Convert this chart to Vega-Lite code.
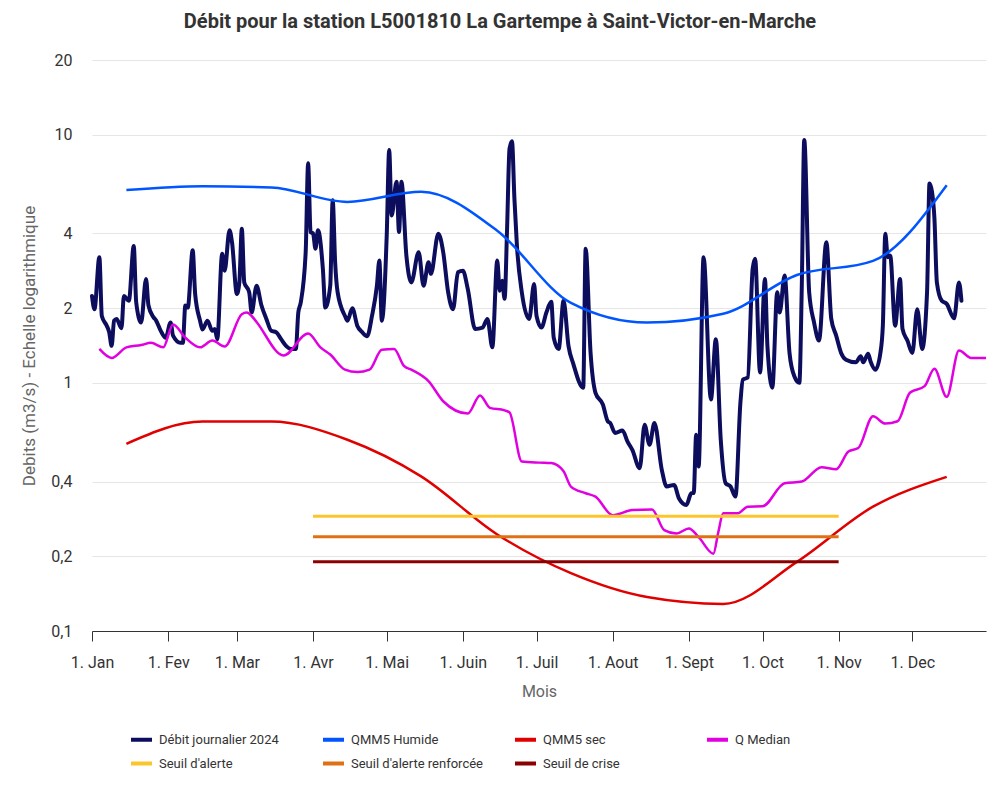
{
  "$schema": "https://vega.github.io/schema/vega-lite/v6.json",
  "autosize": {"type": "none"},
  "width": 894,
  "height": 571,
  "padding": {"left": 92, "top": 60, "right": 14, "bottom": 169},
  "background": "white",
  "config": {"view": {"stroke": null}, "font": "Roboto"},
  "title": {
    "text": "Débit pour la station L5001810 La Gartempe à Saint-Victor-en-Marche",
    "font": "Roboto", "fontSize": 20, "fontWeight": "bold", "color": "#333333",
    "anchor": "middle", "offset": 20, "dx": -39
  },
  "datasets": {
    "debit": [
      {"date": "2023-01-01", "q": 2.24}, {"date": "2023-01-02", "q": 1.98}, {"date": "2023-01-04", "q": 3.21}, {"date": "2023-01-05", "q": 1.86},
      {"date": "2023-01-07", "q": 1.70}, {"date": "2023-01-08", "q": 1.60}, {"date": "2023-01-09", "q": 1.41}, {"date": "2023-01-10", "q": 1.78},
      {"date": "2023-01-11", "q": 1.81}, {"date": "2023-01-13", "q": 1.66}, {"date": "2023-01-14", "q": 2.24}, {"date": "2023-01-16", "q": 2.14},
      {"date": "2023-01-18", "q": 3.56}, {"date": "2023-01-19", "q": 2.11}, {"date": "2023-01-21", "q": 1.75}, {"date": "2023-01-23", "q": 2.62},
      {"date": "2023-01-24", "q": 2.05}, {"date": "2023-01-26", "q": 1.84}, {"date": "2023-01-27", "q": 1.79}, {"date": "2023-01-29", "q": 1.62},
      {"date": "2023-01-31", "q": 1.52}, {"date": "2023-02-02", "q": 1.75}, {"date": "2023-02-03", "q": 1.55}, {"date": "2023-02-06", "q": 1.45},
      {"date": "2023-02-07", "q": 1.45}, {"date": "2023-02-08", "q": 2.05}, {"date": "2023-02-09", "q": 2.01}, {"date": "2023-02-11", "q": 3.42},
      {"date": "2023-02-12", "q": 2.28}, {"date": "2023-02-14", "q": 1.78}, {"date": "2023-02-15", "q": 1.64}, {"date": "2023-02-17", "q": 1.78},
      {"date": "2023-02-19", "q": 1.62}, {"date": "2023-02-20", "q": 1.65}, {"date": "2023-02-21", "q": 1.50}, {"date": "2023-02-23", "q": 3.31},
      {"date": "2023-02-24", "q": 2.83}, {"date": "2023-02-26", "q": 4.12}, {"date": "2023-02-27", "q": 3.69}, {"date": "2023-03-01", "q": 2.28},
      {"date": "2023-03-02", "q": 2.54}, {"date": "2023-03-03", "q": 4.18}, {"date": "2023-03-04", "q": 2.54}, {"date": "2023-03-06", "q": 2.32},
      {"date": "2023-03-07", "q": 1.92}, {"date": "2023-03-09", "q": 2.46}, {"date": "2023-03-11", "q": 2.05}, {"date": "2023-03-13", "q": 1.81},
      {"date": "2023-03-15", "q": 1.62}, {"date": "2023-03-17", "q": 1.60}, {"date": "2023-03-19", "q": 1.50}, {"date": "2023-03-21", "q": 1.41},
      {"date": "2023-03-23", "q": 1.37}, {"date": "2023-03-25", "q": 1.37}, {"date": "2023-03-26", "q": 1.92}, {"date": "2023-03-27", "q": 2.11},
      {"date": "2023-03-29", "q": 3.36}, {"date": "2023-03-30", "q": 7.67}, {"date": "2023-03-31", "q": 4.05}, {"date": "2023-04-01", "q": 4.00},
      {"date": "2023-04-02", "q": 3.47}, {"date": "2023-04-03", "q": 4.12}, {"date": "2023-04-05", "q": 2.88}, {"date": "2023-04-06", "q": 2.01},
      {"date": "2023-04-08", "q": 2.46}, {"date": "2023-04-09", "q": 5.44}, {"date": "2023-04-10", "q": 3.06}, {"date": "2023-04-11", "q": 2.32},
      {"date": "2023-04-14", "q": 1.86}, {"date": "2023-04-15", "q": 1.78}, {"date": "2023-04-17", "q": 2.00}, {"date": "2023-04-19", "q": 1.70},
      {"date": "2023-04-21", "q": 1.60}, {"date": "2023-04-23", "q": 1.54}, {"date": "2023-04-25", "q": 1.86}, {"date": "2023-04-27", "q": 2.46},
      {"date": "2023-04-28", "q": 3.11}, {"date": "2023-04-29", "q": 1.78}, {"date": "2023-05-01", "q": 3.93}, {"date": "2023-05-02", "q": 8.68},
      {"date": "2023-05-03", "q": 4.73}, {"date": "2023-05-05", "q": 6.46}, {"date": "2023-05-06", "q": 4.05}, {"date": "2023-05-07", "q": 6.46},
      {"date": "2023-05-09", "q": 3.26}, {"date": "2023-05-11", "q": 2.54}, {"date": "2023-05-14", "q": 3.36}, {"date": "2023-05-16", "q": 2.46},
      {"date": "2023-05-18", "q": 3.06}, {"date": "2023-05-19", "q": 2.75}, {"date": "2023-05-22", "q": 3.99}, {"date": "2023-05-24", "q": 3.36},
      {"date": "2023-05-26", "q": 2.32}, {"date": "2023-05-28", "q": 1.98}, {"date": "2023-05-30", "q": 2.79}, {"date": "2023-06-01", "q": 2.83},
      {"date": "2023-06-03", "q": 2.39}, {"date": "2023-06-06", "q": 1.65}, {"date": "2023-06-09", "q": 1.67}, {"date": "2023-06-11", "q": 1.81},
      {"date": "2023-06-13", "q": 1.39}, {"date": "2023-06-15", "q": 3.11}, {"date": "2023-06-16", "q": 2.35}, {"date": "2023-06-17", "q": 2.58},
      {"date": "2023-06-18", "q": 2.18}, {"date": "2023-06-19", "q": 4.17}, {"date": "2023-06-20", "q": 8.8}, {"date": "2023-06-21", "q": 9.4},
      {"date": "2023-06-22", "q": 5.5}, {"date": "2023-06-23", "q": 3.58}, {"date": "2023-06-25", "q": 2.32}, {"date": "2023-06-28", "q": 1.81},
      {"date": "2023-06-30", "q": 2.50}, {"date": "2023-07-01", "q": 1.86}, {"date": "2023-07-03", "q": 1.67}, {"date": "2023-07-05", "q": 1.92},
      {"date": "2023-07-07", "q": 2.12}, {"date": "2023-07-08", "q": 1.52}, {"date": "2023-07-10", "q": 1.37}, {"date": "2023-07-12", "q": 2.14},
      {"date": "2023-07-14", "q": 1.41}, {"date": "2023-07-16", "q": 1.19}, {"date": "2023-07-20", "q": 0.955}, {"date": "2023-07-21", "q": 3.47},
      {"date": "2023-07-23", "q": 1.32}, {"date": "2023-07-25", "q": 0.912}, {"date": "2023-07-28", "q": 0.818}, {"date": "2023-07-30", "q": 0.70},
      {"date": "2023-07-31", "q": 0.689}, {"date": "2023-08-02", "q": 0.628}, {"date": "2023-08-05", "q": 0.643}, {"date": "2023-08-07", "q": 0.581},
      {"date": "2023-08-09", "q": 0.537}, {"date": "2023-08-12", "q": 0.453}, {"date": "2023-08-14", "q": 0.678}, {"date": "2023-08-16", "q": 0.563},
      {"date": "2023-08-18", "q": 0.689}, {"date": "2023-08-21", "q": 0.446}, {"date": "2023-08-23", "q": 0.382}, {"date": "2023-08-26", "q": 0.388},
      {"date": "2023-08-28", "q": 0.342}, {"date": "2023-08-31", "q": 0.322}, {"date": "2023-09-02", "q": 0.359}, {"date": "2023-09-03", "q": 0.36},
      {"date": "2023-09-04", "q": 0.618}, {"date": "2023-09-05", "q": 0.46}, {"date": "2023-09-07", "q": 3.21}, {"date": "2023-09-10", "q": 0.857},
      {"date": "2023-09-12", "q": 1.50}, {"date": "2023-09-14", "q": 0.59}, {"date": "2023-09-16", "q": 0.394}, {"date": "2023-09-18", "q": 0.382},
      {"date": "2023-09-20", "q": 0.348}, {"date": "2023-09-22", "q": 0.831}, {"date": "2023-09-23", "q": 1.03}, {"date": "2023-09-25", "q": 1.05},
      {"date": "2023-09-27", "q": 2.88}, {"date": "2023-09-28", "q": 3.16}, {"date": "2023-09-30", "q": 1.10}, {"date": "2023-10-02", "q": 2.62},
      {"date": "2023-10-03", "q": 1.41}, {"date": "2023-10-05", "q": 0.955}, {"date": "2023-10-07", "q": 2.32}, {"date": "2023-10-08", "q": 1.92},
      {"date": "2023-10-10", "q": 2.71}, {"date": "2023-10-12", "q": 1.32}, {"date": "2023-10-14", "q": 1.06}, {"date": "2023-10-16", "q": 1.00},
      {"date": "2023-10-17", "q": 2.46}, {"date": "2023-10-18", "q": 9.53}, {"date": "2023-10-20", "q": 2.32}, {"date": "2023-10-22", "q": 1.75},
      {"date": "2023-10-24", "q": 1.48}, {"date": "2023-10-27", "q": 3.69}, {"date": "2023-10-29", "q": 1.81}, {"date": "2023-10-31", "q": 1.55},
      {"date": "2023-11-02", "q": 1.32}, {"date": "2023-11-04", "q": 1.24}, {"date": "2023-11-08", "q": 1.21}, {"date": "2023-11-10", "q": 1.28},
      {"date": "2023-11-11", "q": 1.21}, {"date": "2023-11-13", "q": 1.31}, {"date": "2023-11-14", "q": 1.22}, {"date": "2023-11-16", "q": 1.13},
      {"date": "2023-11-18", "q": 1.32}, {"date": "2023-11-19", "q": 1.70}, {"date": "2023-11-20", "q": 3.99}, {"date": "2023-11-21", "q": 3.21},
      {"date": "2023-11-22", "q": 3.26}, {"date": "2023-11-24", "q": 1.70}, {"date": "2023-11-26", "q": 2.62}, {"date": "2023-11-27", "q": 1.65},
      {"date": "2023-11-29", "q": 1.48}, {"date": "2023-12-01", "q": 1.32}, {"date": "2023-12-03", "q": 1.98}, {"date": "2023-12-05", "q": 1.37},
      {"date": "2023-12-07", "q": 2.32}, {"date": "2023-12-08", "q": 6.36}, {"date": "2023-12-09", "q": 5.9}, {"date": "2023-12-10", "q": 4.6},
      {"date": "2023-12-11", "q": 2.54}, {"date": "2023-12-13", "q": 2.14}, {"date": "2023-12-15", "q": 2.08}, {"date": "2023-12-18", "q": 1.82},
      {"date": "2023-12-20", "q": 2.54}, {"date": "2023-12-21", "q": 2.14}
    ],
    "humide": [
      {"date": "2023-01-15", "q": 5.98}, {"date": "2023-02-15", "q": 6.20}, {"date": "2023-03-15", "q": 6.13}, {"date": "2023-04-15", "q": 5.36},
      {"date": "2023-05-15", "q": 5.89}, {"date": "2023-06-15", "q": 4.10}, {"date": "2023-07-15", "q": 2.10}, {"date": "2023-08-15", "q": 1.75},
      {"date": "2023-09-15", "q": 1.90}, {"date": "2023-10-15", "q": 2.72}, {"date": "2023-11-15", "q": 3.10}, {"date": "2023-12-15", "q": 6.26}
    ],
    "sec": [
      {"date": "2023-01-15", "q": 0.568}, {"date": "2023-02-15", "q": 0.698}, {"date": "2023-03-15", "q": 0.698}, {"date": "2023-04-15", "q": 0.59},
      {"date": "2023-05-15", "q": 0.42}, {"date": "2023-06-15", "q": 0.245}, {"date": "2023-07-15", "q": 0.171}, {"date": "2023-08-15", "q": 0.137},
      {"date": "2023-09-15", "q": 0.1286}, {"date": "2023-10-15", "q": 0.19}, {"date": "2023-11-15", "q": 0.317}, {"date": "2023-12-15", "q": 0.418}
    ],
    "median": [
      {"date": "2023-01-04", "q": 1.37}, {"date": "2023-01-09", "q": 1.26}, {"date": "2023-01-15", "q": 1.39}, {"date": "2023-01-21", "q": 1.42},
      {"date": "2023-01-25", "q": 1.45}, {"date": "2023-01-30", "q": 1.39}, {"date": "2023-02-03", "q": 1.72}, {"date": "2023-02-08", "q": 1.52},
      {"date": "2023-02-14", "q": 1.39}, {"date": "2023-02-19", "q": 1.48}, {"date": "2023-02-24", "q": 1.40}, {"date": "2023-03-03", "q": 1.89},
      {"date": "2023-03-05", "q": 1.92}, {"date": "2023-03-07", "q": 1.86}, {"date": "2023-03-09", "q": 1.76}, {"date": "2023-03-20", "q": 1.29},
      {"date": "2023-03-30", "q": 1.58}, {"date": "2023-04-04", "q": 1.39}, {"date": "2023-04-08", "q": 1.30}, {"date": "2023-04-14", "q": 1.13},
      {"date": "2023-04-19", "q": 1.105}, {"date": "2023-04-24", "q": 1.13}, {"date": "2023-04-29", "q": 1.36}, {"date": "2023-05-04", "q": 1.37},
      {"date": "2023-05-08", "q": 1.17}, {"date": "2023-05-11", "q": 1.13}, {"date": "2023-05-18", "q": 1.016}, {"date": "2023-05-24", "q": 0.843},
      {"date": "2023-06-03", "q": 0.752}, {"date": "2023-06-08", "q": 0.889}, {"date": "2023-06-12", "q": 0.793}, {"date": "2023-06-18", "q": 0.775},
      {"date": "2023-06-20", "q": 0.76}, {"date": "2023-06-25", "q": 0.482}, {"date": "2023-07-02", "q": 0.477}, {"date": "2023-07-07", "q": 0.475},
      {"date": "2023-07-12", "q": 0.44}, {"date": "2023-07-15", "q": 0.382}, {"date": "2023-07-21", "q": 0.359}, {"date": "2023-07-25", "q": 0.348},
      {"date": "2023-08-01", "q": 0.293}, {"date": "2023-08-09", "q": 0.307}, {"date": "2023-08-17", "q": 0.309}, {"date": "2023-08-22", "q": 0.255},
      {"date": "2023-08-27", "q": 0.247}, {"date": "2023-09-01", "q": 0.259}, {"date": "2023-09-05", "q": 0.239}, {"date": "2023-09-11", "q": 0.205},
      {"date": "2023-09-13", "q": 0.25}, {"date": "2023-09-15", "q": 0.298}, {"date": "2023-09-21", "q": 0.298}, {"date": "2023-09-25", "q": 0.317},
      {"date": "2023-10-01", "q": 0.318}, {"date": "2023-10-10", "q": 0.394}, {"date": "2023-10-17", "q": 0.40}, {"date": "2023-10-25", "q": 0.457},
      {"date": "2023-10-31", "q": 0.449}, {"date": "2023-11-05", "q": 0.529}, {"date": "2023-11-09", "q": 0.546}, {"date": "2023-11-15", "q": 0.733},
      {"date": "2023-11-20", "q": 0.685}, {"date": "2023-11-25", "q": 0.70}, {"date": "2023-11-30", "q": 0.912}, {"date": "2023-12-06", "q": 0.97},
      {"date": "2023-12-10", "q": 1.14}, {"date": "2023-12-15", "q": 0.878}, {"date": "2023-12-20", "q": 1.35}, {"date": "2023-12-25", "q": 1.26},
      {"date": "2023-12-31", "q": 1.26}
    ],
    "alerte": [{"date": "2023-04-01", "q": 0.29}, {"date": "2023-11-01", "q": 0.29}],
    "renforcee": [{"date": "2023-04-01", "q": 0.24}, {"date": "2023-11-01", "q": 0.24}],
    "crise": [{"date": "2023-04-01", "q": 0.19}, {"date": "2023-11-01", "q": 0.19}]
  },
  "encoding": {
    "x": {
      "field": "date", "type": "temporal",
      "scale": {"type": "utc", "domain": [{"year": 2023, "month": 1, "date": 1, "utc": true}, {"year": 2023, "month": 12, "date": 31, "utc": true}], "nice": false},
      "axis": {
        "title": "Mois", "titleFont": "Roboto", "titleFontSize": 16, "titleFontWeight": "normal", "titleColor": "#666666", "titlePadding": 13,
        "labelFont": "Roboto", "labelFontSize": 16, "labelColor": "#333333", "labelPadding": 13,
        "tickSize": 10, "tickColor": "#333333", "domainColor": "#333333", "grid": false,
        "tickCount": {"interval": "month", "step": 1},
        "labelFlush": false, "labelOverlap": false,
        "labelExpr": "'1. ' + ['Jan','Fev','Mar','Avr','Mai','Juin','Juil','Aout','Sept','Oct','Nov','Dec'][utcmonth(datum.value)]"
      }
    },
    "y": {
      "field": "q", "type": "quantitative",
      "scale": {"type": "log", "domain": [0.1, 20], "nice": false},
      "axis": {
        "title": "Debits (m3/s) - Echelle logarithmique", "titleFont": "Roboto", "titleFontSize": 17, "titleFontWeight": "normal", "titleColor": "#666666", "titlePadding": 12,
        "values": [0.1, 0.2, 0.4, 1, 2, 4, 10, 20],
        "labelExpr": "replace(toString(datum.value), '.', ',')",
        "labelFont": "Roboto", "labelFontSize": 16, "labelColor": "#333333", "labelPadding": 20,
        "ticks": false, "domain": false, "grid": true, "gridColor": "#e6e6e6"
      }
    }
  },
  "layer": [
    {
      "data": {"name": "debit"},
      "mark": {"type": "line", "interpolate": "monotone", "strokeWidth": 4, "strokeJoin": "round", "strokeCap": "round"},
      "encoding": {
        "color": {
          "datum": "Débit journalier 2024", "type": "nominal",
          "scale": {"domain": ["Débit journalier 2024", "QMM5 Humide", "QMM5 sec", "Q Median", "Seuil d'alerte", "Seuil d'alerte renforcée", "Seuil de crise"],
                    "range": ["#0d0d5e", "#0055ff", "#e00000", "#e000e0", "#fcc52c", "#e07014", "#8b0000"]},
          "legend": {
            "orient": "none", "legendX": 37, "legendY": 667, "direction": "horizontal", "columns": 4, "title": null,
            "symbolType": "stroke", "symbolStrokeWidth": 4, "symbolSize": 440,
            "labelFont": "Roboto", "labelFontSize": 13, "labelColor": "#333333", "labelOffset": 5,
            "columnPadding": 24, "rowPadding": 3, "gridAlign": "all", "padding": 0
          }
        }
      }
    },
    {
      "data": {"name": "humide"},
      "mark": {"type": "line", "interpolate": "monotone", "strokeWidth": 2.5},
      "encoding": {"color": {"datum": "QMM5 Humide", "type": "nominal"}}
    },
    {
      "data": {"name": "sec"},
      "mark": {"type": "line", "interpolate": "monotone", "strokeWidth": 2.5},
      "encoding": {"color": {"datum": "QMM5 sec", "type": "nominal"}}
    },
    {
      "data": {"name": "median"},
      "mark": {"type": "line", "interpolate": "monotone", "strokeWidth": 2.5},
      "encoding": {"color": {"datum": "Q Median", "type": "nominal"}}
    },
    {
      "data": {"name": "alerte"},
      "mark": {"type": "line", "strokeWidth": 3},
      "encoding": {"color": {"datum": "Seuil d'alerte", "type": "nominal"}}
    },
    {
      "data": {"name": "renforcee"},
      "mark": {"type": "line", "strokeWidth": 3},
      "encoding": {"color": {"datum": "Seuil d'alerte renforcée", "type": "nominal"}}
    },
    {
      "data": {"name": "crise"},
      "mark": {"type": "line", "strokeWidth": 3},
      "encoding": {"color": {"datum": "Seuil de crise", "type": "nominal"}}
    }
  ]
}
